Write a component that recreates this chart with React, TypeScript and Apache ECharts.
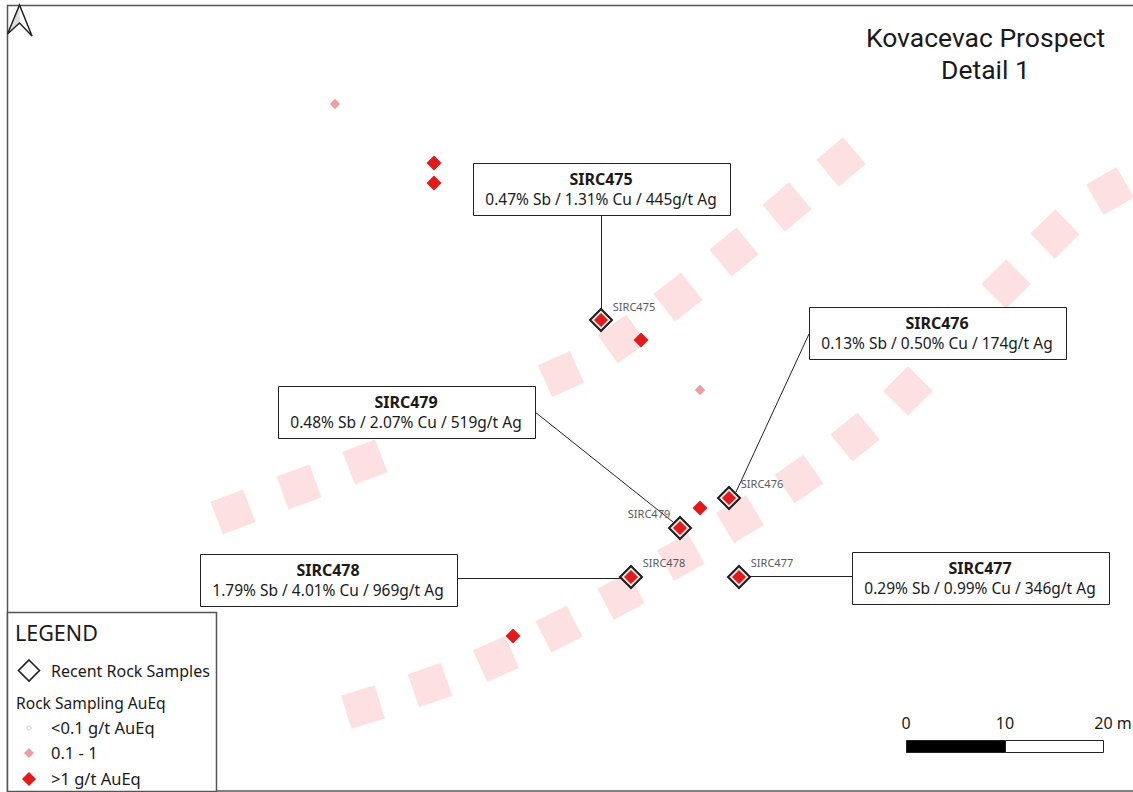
import React, { useEffect, useRef } from "react";
import * as echarts from "echarts";

const W = 1133;
const H = 792;
const FONT = '"Noto Sans", "Open Sans", sans-serif';
const TITLE_FONT = 'Roboto, "Noto Sans", sans-serif';
const RED = "#e31a1c";
const PINK = "#eb9fa2";
const BAND = "#fde0e1";
const INK = "#222222";
const FRAME = "#555555";

// Map positions, in page-scale map units.
const veinUpper = [[841, 162], [787, 207], [734, 252], [678, 297], [622, 339], [561, 374], [365, 462], [299, 487], [233, 512]];
const veinUpperTurn = [40, 40, 39, 38, 35, 24, 21, 20, 21];
const veinLower = [[1110, 191], [1055, 234], [1006, 284], [908, 391], [855, 437], [799, 479], [740, 519], [681, 557], [621, 596], [559, 629], [496, 659], [430, 685], [363, 707]];
const veinLowerTurn = [30, 44, 45, 45, 39, 35, 31, 29, 28, 27, 24, 19, 17];

const highGrade = [[434, 163], [434, 183], [641, 340], [700, 508], [513, 636]];
const midGrade = [[335, 104], [700, 390]];

const sampleIds = ["SIRC475", "SIRC476", "SIRC477", "SIRC478", "SIRC479"];
const samplePoints = [[601, 320], [729, 498], [739, 577], [631, 577], [680, 528]];
const sampleLabelOffsets = [[12, -14], [12, -15], [12, -15], [12, -15], [-52, -15]];

const leaderStarts = [[601, 216], [809, 334], [852, 576], [456, 578], [535, 412]];
const leaderEnds = [[601, 320], [736, 492], [748, 576], [622, 578], [673, 522]];

const calloutBoxes = [[473, 163], [809, 307], [852, 552], [200, 554], [278, 386]];
const calloutAssays = [
  "0.47% Sb / 1.31% Cu / 445g/t Ag",
  "0.13% Sb / 0.50% Cu / 174g/t Ag",
  "0.29% Sb / 0.99% Cu / 346g/t Ag",
  "1.79% Sb / 4.01% Cu / 969g/t Ag",
  "0.48% Sb / 2.07% Cu / 519g/t Ag",
];

const titleLines = ["Kovacevac Prospect", "Detail 1"];
const scaleTicks = ["0", "10", "20 m"];
const legendGrades = ["<0.1 g/t AuEq", "0.1 - 1", ">1 g/t AuEq"];

const diamond = (cx: number, cy: number, r: number, style: any, z = 30) => ({
  type: "polygon",
  z,
  shape: { points: [[cx, cy - r], [cx + r, cy], [cx, cy + r], [cx - r, cy]] },
  style,
});

const text = (x: number, y: number, t: string, size: number, extra: any = {}, z = 31) => ({
  type: "text",
  x,
  y,
  z,
  style: { text: t, fontSize: size, fontFamily: FONT, fill: "#1a1a1a", textAlign: "left", textVerticalAlign: "middle", ...extra },
});

function buildGraphic() {
  const els: any[] = [];
  // Map frame
  els.push({ type: "polyline", z: 20, shape: { points: [[1133, 5.5], [7.5, 5.5], [7.5, 791], [1133, 791]] }, style: { stroke: FRAME, lineWidth: 1.5, fill: "none" } });
  // North arrow
  els.push({ type: "polygon", z: 21, shape: { points: [[19.5, 5], [7.5, 34], [19.5, 23]] }, style: { fill: "#dddddd", stroke: "none" } });
  els.push({ type: "polygon", z: 22, shape: { points: [[19.5, 5], [7.5, 34], [19.5, 23], [32, 36]] }, style: { fill: "none", stroke: INK, lineWidth: 1.5 } });
  // Title
  titleLines.forEach((t, i) => els.push(text(985.5, 37 + i * 32, t, 26.5, { textAlign: "center", fontFamily: TITLE_FONT })));
  // Callouts
  calloutBoxes.forEach(([x, y], i) => {
    els.push({ type: "rect", z: 25, shape: { x: x + 0.5, y: y + 0.5, width: 257, height: 52 }, style: { fill: "#ffffff", stroke: INK, lineWidth: 1 } });
    els.push(text(x + 128, y + 15.5, sampleIds[i], 16, { textAlign: "center", fontWeight: "bold" }, 26));
    els.push(text(x + 128, y + 36, calloutAssays[i], 15.5, { textAlign: "center" }, 26));
  });
  // Legend
  els.push({ type: "rect", z: 28, shape: { x: 7.5, y: 612.5, width: 209, height: 179 }, style: { fill: "#ffffff", stroke: FRAME, lineWidth: 1.5 } });
  els.push(text(15, 632, "LEGEND", 21.5));
  els.push(diamond(29, 670.5, 10.5, { fill: "#ffffff", stroke: INK, lineWidth: 1.6 }));
  els.push(text(51, 670.5, "Recent Rock Samples", 16));
  els.push(text(16, 702.5, "Rock Sampling AuEq", 15.6));
  els.push(diamond(29, 728, 2.6, { fill: "#ffffff", stroke: "#c5cbd6", lineWidth: 1 }));
  els.push(diamond(29, 753, 5, { fill: PINK, stroke: "none" }));
  els.push(diamond(29, 779, 7, { fill: RED, stroke: "none" }));
  [727, 752.5, 778].forEach((y, i) => els.push(text(51, y, legendGrades[i], 16.5)));
  // Scale bar
  els.push({ type: "rect", z: 30, shape: { x: 906.5, y: 740.5, width: 99, height: 12 }, style: { fill: "#000000", stroke: INK, lineWidth: 1 } });
  els.push({ type: "rect", z: 30, shape: { x: 1005.5, y: 740.5, width: 98, height: 12 }, style: { fill: "#ffffff", stroke: INK, lineWidth: 1 } });
  [906, 1005, 1113].forEach((x, i) => els.push(text(x, 723, scaleTicks[i], 16, { textAlign: "center" })));
  return els;
}

const bandSeries = (pts: number[][], turns: number[]) => ({
  type: "scatter",
  z: 1,
  silent: true,
  symbol: "rect",
  symbolSize: 35,
  itemStyle: { color: BAND, opacity: 1 },
  data: pts.map((value, i) => ({ value, symbolRotate: turns[i] })),
});

export default function App() {
  const ref = useRef<HTMLDivElement>(null);
  useEffect(() => {
    const chart = echarts.init(ref.current!, undefined, { renderer: "svg" });
    chart.setOption({
      animation: false,
      backgroundColor: "#ffffff",
      grid: { left: 0, right: 0, top: 0, bottom: 0 },
      xAxis: { type: "value", min: 0, max: W, show: false },
      yAxis: { type: "value", min: 0, max: H, inverse: true, show: false },
      graphic: buildGraphic(),
      series: [
        bandSeries(veinUpper, veinUpperTurn),
        bandSeries(veinLower, veinLowerTurn),
        {
          type: "lines",
          coordinateSystem: "cartesian2d",
          z: 3,
          silent: true,
          polyline: false,
          lineStyle: { color: INK, width: 1, opacity: 1 },
          data: leaderStarts.map((s, i) => ({ coords: [s, leaderEnds[i]] })),
        },
        {
          type: "scatter",
          z: 4,
          silent: true,
          symbol: "diamond",
          symbolSize: 10.5,
          itemStyle: { color: PINK, opacity: 1 },
          data: midGrade,
        },
        {
          type: "scatter",
          z: 4,
          silent: true,
          symbol: "diamond",
          symbolSize: 15,
          itemStyle: { color: RED, opacity: 1 },
          data: highGrade,
        },
        {
          type: "scatter",
          z: 5,
          silent: true,
          symbol: "diamond",
          symbolSize: 22,
          itemStyle: { color: "#e4e4e4", borderColor: "#1c1c1c", borderWidth: 2, opacity: 1 },
          data: samplePoints.map((value, i) => ({
            value,
            label: {
              show: true,
              position: "inside",
              offset: [sampleLabelOffsets[i][0] + 21, sampleLabelOffsets[i][1]],
              formatter: sampleIds[i],
              fontSize: 11,
              fontFamily: FONT,
              color: "#5a5a5a",
            },
          })),
        },
        {
          type: "scatter",
          z: 6,
          silent: true,
          symbol: "diamond",
          symbolSize: 14,
          itemStyle: { color: RED, opacity: 1 },
          data: samplePoints,
        },
      ],
    });
    return () => chart.dispose();
  }, []);
  return <div ref={ref} style={{ position: "absolute", left: 0, top: 0, width: W, height: H }} />;
}
